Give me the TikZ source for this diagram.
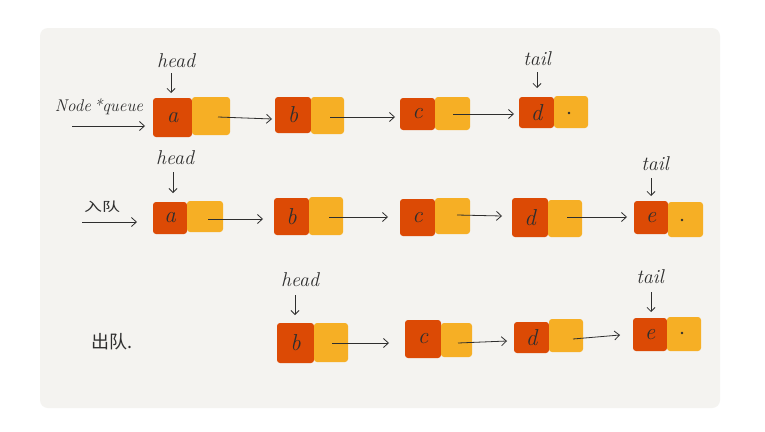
\documentclass[tikz,border=0pt]{standalone}
\usepackage{fontspec}
\newfontfamily\cjk{Noto Sans CJK SC}
\usetikzlibrary{arrows.meta}
\definecolor{panel}{HTML}{F4F3F0}
\definecolor{cellred}{HTML}{DC4A05}
\definecolor{cellyel}{HTML}{F6AF25}
\definecolor{ink}{HTML}{2E2E2E}
\tikzset{
  cellbase/.style={inner sep=0pt, outer sep=0pt, rounded corners=3pt, font=\fontsize{23}{23}\selectfont\itshape, text=ink},
  redcell/.style={cellbase, fill=cellred},
  yelcell/.style={cellbase, fill=cellyel},
  arr/.style={draw=ink, line width=0.8pt, -{Straight Barb[length=5pt,width=9pt]}},
  ptr/.style={draw=ink, line width=0.8pt, -{Straight Barb[length=4pt,width=8pt]}},
  lbl/.style={inner sep=0pt, text=ink, font=\fontsize{20}{20}\selectfont\itshape},
  cjklbl/.style={inner sep=0pt, text=ink, font=\fontsize{18}{18}\selectfont\cjk},
  nilnode/.style={circle, fill=ink, inner sep=0pt, minimum size=2.6pt}
}
\newcommand{\cellat}[6]{\node[#1, minimum width=#4pt, minimum height=#5pt] (#2) at (#3) {#6};}
\begin{document}
\begin{tikzpicture}[x=1pt, y=-1pt]
\useasboundingbox (0,0) rectangle (765,431);
\fill[white] (0,0) rectangle (765,431);
\fill[panel, rounded corners=8pt] (40,28) rectangle (720,408);

% ---------- Row 1 ----------
\cellat{redcell}{a1r}{172.5,117.5}{39}{39}{a}
\cellat{yelcell}{a1y}{211,116}{38}{38}{}
\cellat{redcell}{b1r}{293,115}{36}{36}{b}
\cellat{yelcell}{b1y}{327.5,115.5}{33}{37}{}
\cellat{redcell}{c1r}{417.5,114}{35}{32}{c}
\cellat{yelcell}{c1y}{452.5,113.5}{35}{33}{}
\cellat{redcell}{d1r}{536.5,112.5}{35}{31}{d}
\cellat{yelcell}{d1y}{571,112}{34}{32}{}
\node[nilnode] (n1) at (569,113) {};

\draw[arr] ([shift={(7,1)}]a1y.center) -- ([shift={(-3,4)}]b1r.west);
\draw[arr] ([shift={(2.5,1.5)}]b1y.center) -- ([shift={(-5,3)}]c1r.west);
\draw[arr] ([shift={(0.5,0.5)}]c1y.center) -- ([shift={(-5,1.5)}]d1r.west);

\node[lbl] (h1) at (176,61) {head};
\draw[ptr] ([shift={(-5,12)}]h1.center) -- ([shift={(-1.5,-5)}]a1r.north);
\node[lbl] (t1) at (537,59) {tail};
\draw[ptr] ([shift={(0,13)}]t1.center) -- ([shift={(0.5,-9)}]d1r.north);

\node[lbl, font=\fontsize{17}{17}\selectfont\itshape] (q) at (99,107) {Node\,*queue};
\coordinate (qs) at (72,126);
\coordinate (qe) at (145,126);
\draw[arr] (qs) -- (qe);

% ---------- Row 2 ----------
\cellat{redcell}{a2r}{170,218}{34}{32}{a}
\cellat{yelcell}{a2y}{205,216.5}{36}{31}{}
\cellat{redcell}{b2r}{291.5,216.5}{35}{37}{b}
\cellat{yelcell}{b2y}{326,216}{34}{38}{}
\cellat{redcell}{c2r}{417.5,217.5}{35}{37}{c}
\cellat{yelcell}{c2y}{452.5,216}{35}{36}{}
\cellat{redcell}{d2r}{530,217.5}{36}{39}{d}
\cellat{yelcell}{d2y}{565,218.5}{34}{37}{}
\cellat{redcell}{e2r}{651,217.5}{34}{33}{e}
\cellat{yelcell}{e2y}{685.5,219.5}{35}{35}{}
\node[nilnode] (n2) at (682,220) {};

\draw[arr] ([shift={(3,2.5)}]a2y.center) -- ([shift={(-11,2.5)}]b2r.west);
\draw[arr] ([shift={(3,1)}]b2y.center) -- ([shift={(-12,-0.5)}]c2r.west);
\draw[arr] ([shift={(4.5,-1)}]c2y.center) -- ([shift={(-10,-1.5)}]d2r.west);
\draw[arr] ([shift={(2,-1.5)}]d2y.center) -- ([shift={(-7,-0.5)}]e2r.west);

\node[lbl] (h2) at (175,158) {head};
\draw[ptr] ([shift={(-2,14)}]h2.center) -- ([shift={(3,-9)}]a2r.north);
\node[lbl] (t2) at (655,164) {tail};
\draw[ptr] ([shift={(-4,14)}]t2.center) -- ([shift={(0,-5)}]e2r.north);

\node[cjklbl] (enq) at (102,207) {\scalebox{1}[0.7]{入队}};
\coordinate (es) at (82,222);
\coordinate (ee) at (137,222);
\draw[arr] (es) -- (ee);

% ---------- Row 3 ----------
\cellat{redcell}{b3r}{295.5,343}{37}{40}{b}
\cellat{yelcell}{b3y}{331,342.5}{34}{39}{}
\cellat{redcell}{c3r}{423,339}{36}{38}{c}
\cellat{yelcell}{c3y}{456.5,340}{31}{34}{}
\cellat{redcell}{d3r}{531.5,337.5}{35}{31}{d}
\cellat{yelcell}{d3y}{566,335.5}{34}{33}{}
\cellat{redcell}{e3r}{650,334.5}{34}{33}{e}
\cellat{yelcell}{e3y}{684,334}{34}{34}{}
\node[nilnode] (n3) at (682,333) {};

\draw[arr] ([shift={(1,0.5)}]b3y.center) -- ([shift={(-16,4)}]c3r.west);
\draw[arr] ([shift={(1.5,3)}]c3y.center) -- ([shift={(-7,3.5)}]d3r.west);
\draw[arr] ([shift={(7,3.5)}]d3y.center) -- ([shift={(-13,0.5)}]e3r.west);

\node[lbl] (h3) at (300,280) {head};
\draw[ptr] ([shift={(-5,15)}]h3.center) -- ([shift={(-0.5,-8)}]b3r.north);
\node[lbl] (t3) at (650,277) {tail};
\draw[ptr] ([shift={(1,15)}]t3.center) -- ([shift={(1,-6)}]e3r.north);

\node[cjklbl] (deq) at (112,342) {出队.};
\end{tikzpicture}
\end{document}
